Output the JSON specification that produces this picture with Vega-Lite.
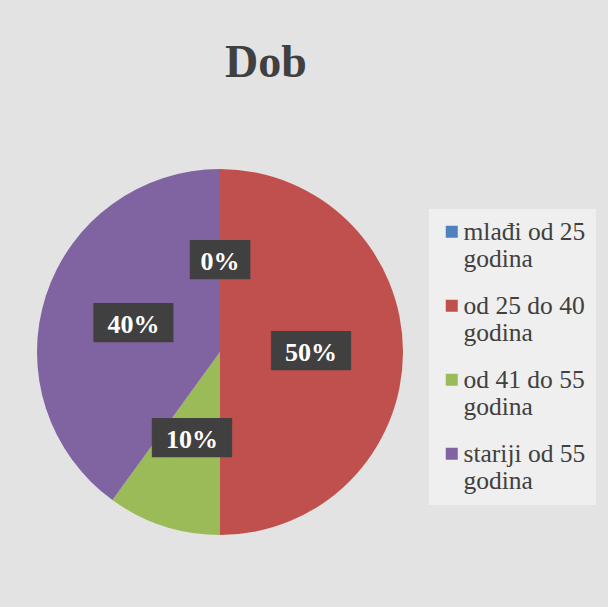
{
  "$schema": "https://vega.github.io/schema/vega-lite/v6.json",
  "width": 366,
  "height": 366,
  "autosize": {"type": "none"},
  "padding": {"left": 37, "top": 169, "right": 205, "bottom": 72},
  "background": "#e3e3e3",
  "config": {"view": {"stroke": null}},
  "title": {
    "text": "Dob",
    "font": "Liberation Serif",
    "fontSize": 46,
    "fontWeight": "bold",
    "color": "#404040",
    "anchor": "middle",
    "dx": 46,
    "baseline": "alphabetic",
    "offset": 46
  },
  "data": {
    "values": [
      {"kategorija": "mlađi od 25 godina", "udio": 0},
      {"kategorija": "od 25 do 40 godina", "udio": 0.5},
      {"kategorija": "od 41 do 55 godina", "udio": 0.1},
      {"kategorija": "stariji od 55 godina", "udio": 0.4}
    ]
  },
  "encoding": {
    "theta": {"field": "udio", "type": "quantitative", "stack": true},
    "order": {"field": "kategorija", "sort": "ascending"}
  },
  "layer": [
    {
      "mark": {"type": "arc", "strokeWidth": 0},
      "encoding": {
        "color": {
          "field": "kategorija",
          "type": "nominal",
          "scale": {
            "domain": ["mlađi od 25 godina", "od 25 do 40 godina", "od 41 do 55 godina", "stariji od 55 godina"],
            "range": ["#4F81BD", "#C0504D", "#9BBB59", "#8064A2"]
          },
          "legend": {
            "title": null,
            "orient": "none",
            "legendX": 392,
            "legendY": 40,
            "padding": 10,
            "fillColor": "#efefef",
            "symbolType": "square",
            "symbolSize": 144,
            "symbolStrokeWidth": 0,
            "labelFont": "Liberation Serif",
            "labelFontSize": 25.5,
            "labelColor": "#404040",
            "labelLineHeight": 26,
            "labelBaseline": "top",
            "rowPadding": 20,
            "labelLimit": 200,
            "labelOffset": -1,
            "labelExpr": "[slice(datum.label,0,lastindexof(datum.label,' ')), slice(datum.label,lastindexof(datum.label,' ')+1)]",
            "encode": {"labels": {"update": {"dy": {"value": -12}}}}
          }
        }
      }
    },
    {
      "mark": {"type": "text", "radius": 91, "font": "DejaVu Sans Mono", "fontSize": 33, "color": "#404040", "baseline": "middle"},
      "encoding": {
        "text": {
          "condition": {"test": "datum.udio == 0", "value": "███"},
          "value": "████"
        }
      }
    },
    {
      "mark": {"type": "text", "radius": 91, "font": "Liberation Serif", "fontSize": 26, "fontWeight": "bold", "color": "white", "baseline": "middle", "dy": 1},
      "encoding": {
        "text": {"field": "udio", "type": "quantitative", "format": ".0%"}
      }
    }
  ]
}
